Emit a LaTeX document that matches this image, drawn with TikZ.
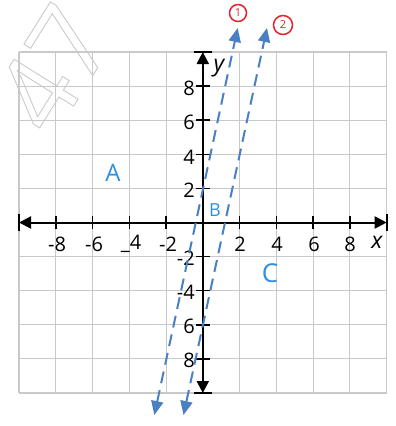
\documentclass[tikz,border=0pt]{standalone}
\usepackage{fontspec}
\setmainfont{Open Sans}
\usetikzlibrary{arrows.meta}
\definecolor{gridgray}{HTML}{C9C9C9}
\definecolor{lineblue}{HTML}{4A7FC4}
\definecolor{labblue}{HTML}{2E8FE0}
\definecolor{circred}{HTML}{E8222E}
\definecolor{wmgray}{HTML}{CACACA}
\tikzset{
  gridline/.style={draw=gridgray, line width=1.1},
  axisline/.style={draw=black, line width=2},
  axtip/.style={-{Triangle[length=12,width=12]}},
  tick/.style={draw=black, line width=1.5},
  numlab/.style={inner sep=0, font=\fontsize{20}{20}\selectfont},
  varlab/.style={inner sep=0, font=\fontsize{23}{23}\selectfont\itshape},
  dline/.style={draw=lineblue, line width=2, dash pattern=on 12 off 7,
    {Triangle[length=14,width=12]}-{Triangle[length=14,width=12]}},
  regionlab/.style={inner sep=0, text=labblue},
  circlab/.style={circle, draw=circred, line width=1.5, text=circred, inner sep=0,
    minimum size=17, font=\fontsize{11}{11}\selectfont}
}
\begin{document}
\begin{tikzpicture}[x=1pt,y=-1pt]
\useasboundingbox (0,0) rectangle (396,426);
% watermark
\begin{scope}
\clip (0,0) rectangle (396,426);
\node[rotate=58, text=wmgray, inner sep=0, font=\fontsize{105}{105}\selectfont] (wm) at (53,68)
  {\special{pdf:literal direct 1 Tr 0.9 w}47\special{pdf:literal direct 0 Tr}};
\end{scope}
% grid
\foreach \i in {0,...,10} {
  \draw[gridline] ({19+\i*36.77},52) -- ({19+\i*36.77},393);
  \draw[gridline] (19,{52+\i*34.1}) -- (386.7,{52+\i*34.1});
}
% axes
\coordinate (xl) at (19,222.5);
\coordinate (xr) at (386.7,222.5);
\coordinate (yt) at (202.8,52);
\coordinate (yb) at (202.8,393);
\coordinate (o) at (202.8,222.5);
\draw[axisline, axtip] (o) -- (xl);
\draw[axisline, axtip] (o) -- (xr);
\draw[axisline, axtip] (o) -- (yt);
\draw[axisline, axtip] (o) -- (yb);
\draw[axisline] (19,214) -- (19,231);
\draw[axisline] (386.7,214) -- (386.7,231);
\draw[axisline] (194,52) -- (212,52);
\draw[axisline] (194,393) -- (212,393);
\foreach \k in {1,2,3,4,6,7,8,9} {
  \draw[tick] ({19+\k*36.77},216) -- ({19+\k*36.77},229);
  \draw[tick] (196,{52+\k*34.1}) -- (209.5,{52+\k*34.1});
}
% x labels
\node[numlab] (xm8) at (57,244) {-8};
\node[numlab] (xm6) at (94,244) {-6};
\node[numlab] (xm4) at (131,244) {\_4};
\node[numlab] (xm2) at (168,244) {-2};
\node[numlab] (x2) at (240,244) {2};
\node[numlab] (x4) at (277,244) {4};
\node[numlab] (x6) at (314,244) {6};
\node[numlab] (x8) at (350,244) {8};
\node[varlab] (xv) at (377,242) {x};
% y labels
\node[numlab, anchor=east] (y8) at (195,88) {8};
\node[numlab, anchor=east] (y6) at (195,122) {6};
\node[numlab, anchor=east] (y4) at (195,157) {4};
\node[numlab, anchor=east] (y2) at (195,190) {2};
\node[varlab] (yv) at (219,68) {y};
\node[numlab, anchor=east] (ym2) at (195,258) {-2};
\node[numlab, anchor=east] (ym4) at (195,292) {-4};
\node[numlab, anchor=east] (ym6) at (195,326) {6};
\node[numlab, anchor=east] (ym8) at (195,360) {8};
% dashed lines
\coordinate (l1b) at (154.3,415);
\coordinate (l1t) at (237.7,28);
\coordinate (l2b) at (183.5,415);
\coordinate (l2t) at (267,28);
\draw[dline] (l1b) -- (l1t);
\draw[dline] (l2b) -- (l2t);
% circled numbers
\node[circlab] (c1) at (238,13) {1};
\node[circlab, minimum size=19] (c2) at (283,25) {2};
% region labels
\node[regionlab, font=\fontsize{24}{24}\selectfont] (ra) at (113,173) {A};
\node[regionlab, font=\fontsize{18}{18}\selectfont] (rb) at (215,210) {B};
\node[regionlab, font=\fontsize{26}{26}\selectfont] (rc) at (270,273) {C};
\end{tikzpicture}
\end{document}
